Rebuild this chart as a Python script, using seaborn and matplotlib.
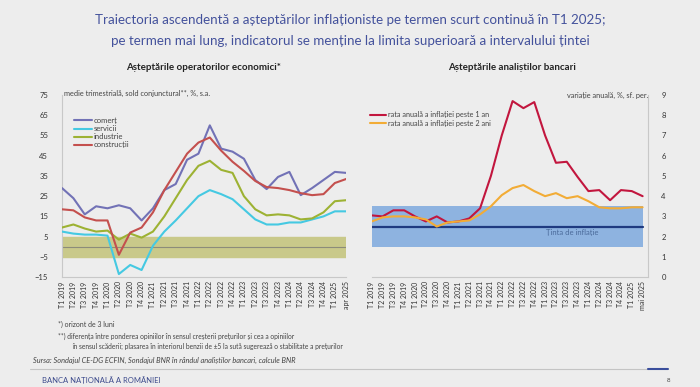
import matplotlib
matplotlib.use("Agg")
import matplotlib.pyplot as plt
import numpy as np
import pandas as pd
import seaborn as sns

# x labels
quarters = [f"T{q} {y}" for y in range(2019, 2025) for q in range(1, 5)] + ["T1 2025"]
labels_left = quarters + ["apr 2025"]
labels_right = quarters + ["mai 2025"]

# left chart: operatorii economici (sold conjunctural)
comert = [29, 24, 16, 20, 19, 20.5, 19, 13, 19, 28, 31, 43, 46, 60, 48.5, 47, 43.5,
          33, 28.5, 34.5, 37, 25.5, 29, 33, 37, 36.5]
servicii = [7.5, 6.5, 6, 6, 5.5, -13.5, -9, -11.5, 0.5, 7.5, 13, 19, 25, 28, 26, 23.5,
            18.5, 13.5, 11, 11, 12, 12, 13.5, 15, 17.5, 17.5]
industrie = [9.5, 11, 9, 7.5, 8, 3.5, 6.5, 4.5, 7.5, 15, 24, 33, 40, 42.5, 38, 36.5,
             25, 18.5, 15.5, 16, 15.5, 13.5, 14, 17, 22.5, 23]
constructii = [18.5, 18, 14.5, 13, 13, -4, 7, 9.5, 17, 28, 37, 46, 51.5, 54, 47.5, 42,
               37.5, 32.5, 29.5, 29, 28, 26.5, 25.5, 26, 31.5, 33.5]

# right chart: analistii bancari
infl_1an = [3.05, 3.0, 3.3, 3.3, 3.0, 2.75, 3.0, 2.7, 2.75, 2.9, 3.4, 5.0, 7.0, 8.7,
            8.35, 8.65, 7.0, 5.65, 5.7, 4.95, 4.25, 4.3, 3.8, 4.3, 4.25, 4.0]
infl_2ani = [2.75, 2.95, 3.0, 3.0, 2.95, 2.85, 2.5, 2.7, 2.75, 2.8, 3.1, 3.5, 4.05, 4.4,
             4.55, 4.25, 4.0, 4.15, 3.9, 4.0, 3.75, 3.45, 3.4, 3.4, 3.45, 3.45]

left_names = ["comerț", "servicii", "industrie", "construcții"]
left_colors = ["#7272B6", "#45C9E2", "#9DB233", "#C4504E"]
right_names = ["rata anuală a inflației peste 1 an", "rata anuală a inflației peste 2 ani"]
right_colors = ["#C2163E", "#F2AC36"]

sns.set_theme(style="white")
plt.rcParams["font.family"] = ["Lato", "DejaVu Sans"]

bg = "#EDEDED"
fig = plt.figure(figsize=(7, 3.87), dpi=100, facecolor=bg)

idx = np.arange(len(comert))
df_left = pd.DataFrame({
    "idx": np.tile(idx, 4),
    "val": comert + servicii + industrie + constructii,
    "serie": np.repeat(left_names, len(idx)),
})
df_right = pd.DataFrame({
    "idx": np.tile(idx, 2),
    "val": infl_1an + infl_2ani,
    "serie": np.repeat(right_names, len(idx)),
})

spine_c = "#C8C8C8"
tick_c = "#333333"

# ---- left chart
ax1 = fig.add_axes([0.0886, 0.284, 0.406, 0.4705])
ax1.set_facecolor(bg)
ax1.axhspan(-5, 5, color="#C9C98A", zorder=0)
ax1.axhline(0, color="#8C8C7A", lw=0.8, zorder=1)
sns.lineplot(data=df_left, x="idx", y="val", hue="serie", palette=left_colors,
             linewidth=1.5, ax=ax1, zorder=3)
ax1.set_xlim(0, 25)
ax1.set_ylim(-15, 75)
ax1.set_yticks(np.arange(-15, 76, 10))
ax1.set_xticks(idx)
ax1.set_xticklabels(labels_left, rotation=90, fontsize=5)
ax1.tick_params(axis="y", labelsize=5.5, colors=tick_c, length=0, pad=10)
ax1.tick_params(axis="x", colors=tick_c, length=0, pad=3)
ax1.set_xlabel("")
ax1.set_ylabel("")
for s in ["top", "right"]:
    ax1.spines[s].set_visible(False)
for s in ["left", "bottom"]:
    ax1.spines[s].set_color(spine_c)
    ax1.spines[s].set_linewidth(0.8)
ax1.legend(loc="upper left", bbox_to_anchor=(0.03, 0.9), frameon=False, fontsize=5.5,
           handlelength=2.3, handletextpad=0.2, labelspacing=0.15, borderpad=0)
for t in ax1.get_legend().get_texts():
    t.set_color("#444444")

# ---- right chart
ax2 = fig.add_axes([0.531, 0.284, 0.394, 0.4705])
ax2.set_facecolor(bg)
ax2.fill_between([0, 25], 1.5, 3.5, color="#8EB3E0", zorder=0, linewidth=0)
ax2.plot([0, 25], [2.5, 2.5], color="#1F3A80", lw=1.6, zorder=1)
sns.lineplot(data=df_right, x="idx", y="val", hue="serie", palette=right_colors,
             linewidth=1.5, ax=ax2, zorder=3)
ax2.text(18.5, 2.2, "Ținta de inflație", fontsize=5.5, color="#4A6A9A", ha="center", va="center")
ax2.set_xlim(0, 25.45)
ax2.set_ylim(0, 9)
ax2.set_yticks(np.arange(0, 10, 1))
ax2.yaxis.tick_right()
ax2.set_xticks(idx)
ax2.set_xticklabels(labels_right, rotation=90, fontsize=5)
ax2.tick_params(axis="y", labelsize=5.5, colors=tick_c, length=0, pad=10)
ax2.tick_params(axis="x", colors=tick_c, length=0, pad=3)
ax2.set_xlabel("")
ax2.set_ylabel("")
for s in ["top", "left"]:
    ax2.spines[s].set_visible(False)
for s in ["right", "bottom"]:
    ax2.spines[s].set_color(spine_c)
    ax2.spines[s].set_linewidth(0.8)
ax2.legend(loc="upper left", bbox_to_anchor=(-0.02, 0.93), frameon=False, fontsize=5.2,
           handlelength=2.3, handletextpad=0.2, labelspacing=0.2, borderpad=0)
for t in ax2.get_legend().get_texts():
    t.set_color("#444444")

# ---- texts
title_c = "#44529C"
fig.text(0.5, 1 - 20 / 387, "Traiectoria ascendentă a așteptărilor inflaționiste pe termen scurt continuă în T1 2025;",
         ha="center", va="center", fontsize=9.6, color=title_c)
fig.text(0.5, 1 - 41 / 387, "pe termen mai lung, indicatorul se menține la limita superioară a intervalului țintei",
         ha="center", va="center", fontsize=9.6, color=title_c)
fig.text(203 / 700, 1 - 68 / 387, "Așteptările operatorilor economici*", ha="center", va="center",
         fontsize=7, fontweight="bold", color="#222222")
fig.text(512 / 700, 1 - 68 / 387, "Așteptările analiștilor bancari", ha="center", va="center",
         fontsize=7, fontweight="bold", color="#222222")
fig.text(64 / 700, 1 - 93 / 387, "medie trimestrială, sold conjunctural**, %, s.a.", ha="left", va="center",
         fontsize=5.3, color="#444444")
fig.text(648 / 700, 1 - 95 / 387, "variație anuală, %, sf. per.", ha="right", va="center",
         fontsize=5.3, color="#444444")

fig.text(58 / 700, 1 - 324 / 387, "*) orizont de 3 luni", fontsize=5, color="#444444", va="center")
fig.text(58 / 700, 1 - 336 / 387, "**) diferența între ponderea opiniilor în sensul creșterii prețurilor și cea a opiniilor",
         fontsize=4.8, color="#444444", va="center")
fig.text(72 / 700, 1 - 346 / 387, "în sensul scăderii; plasarea în interiorul benzii de ±5 la sută sugerează o stabilitate a prețurilor",
         fontsize=4.8, color="#444444", va="center")
fig.text(33 / 700, 1 - 360 / 387, "Sursa: Sondajul CE-DG ECFIN, Sondajul BNR în rândul analiștilor bancari, calcule BNR",
         fontsize=5.3, style="italic", color="#444444", va="center")
fig.add_artist(plt.Line2D([30 / 700, 648 / 700], [1 - 369 / 387] * 2, color="#C4C4C4", lw=0.8))
fig.add_artist(plt.Line2D([648 / 700, 668 / 700], [1 - 369 / 387] * 2, color="#3A4E9C", lw=1.5))
fig.text(42 / 700, 1 - 380 / 387, "BANCA NAȚIONALĂ A ROMÂNIEI", fontsize=5.5, color="#3C4A8C", va="center")
fig.text(667 / 700, 1 - 381 / 387, "8", fontsize=4.5, color="#444444", va="center")

fig.savefig("out.png", dpi=100, facecolor=bg)
